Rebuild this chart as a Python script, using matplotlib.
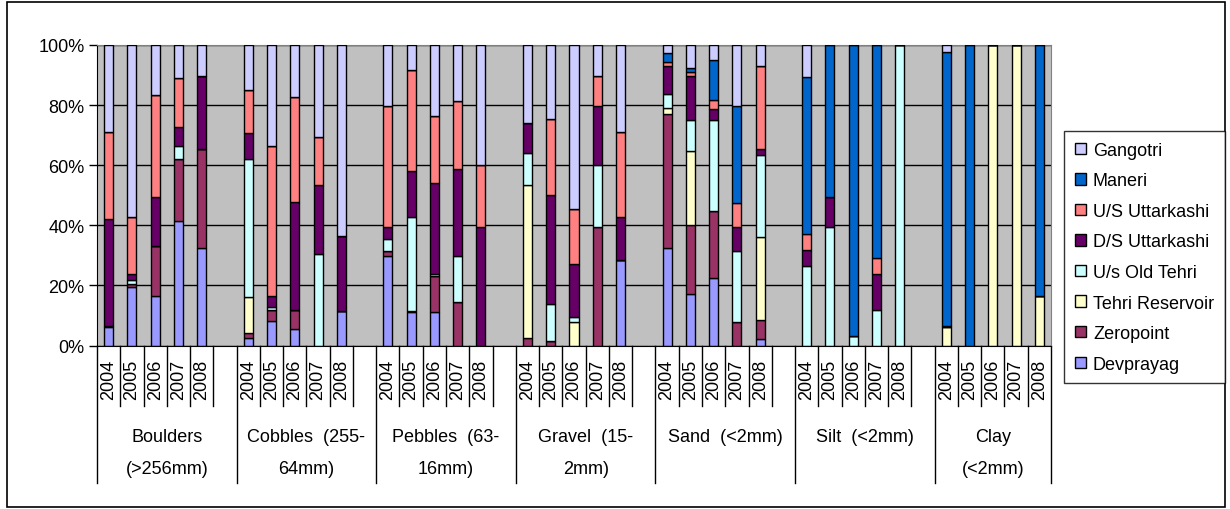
import matplotlib
matplotlib.use("Agg")
import matplotlib.pyplot as plt
from matplotlib.patches import Patch, Rectangle
from matplotlib.lines import Line2D
import numpy as np

plt.rcParams['font.family'] = ['Liberation Sans', 'DejaVu Sans']

years = ["2004", "2005", "2006", "2007", "2008"]
groups = [["Boulders", "(>256mm)"], ["Cobbles  (255-", "64mm)"], ["Pebbles  (63-", "16mm)"],
          ["Gravel  (15-", "2mm)"], ["Sand  (<2mm)", ""], ["Silt  (<2mm)", ""], ["Clay", "(<2mm)"]]

# Segment values (%) per series, 7 groups x 5 years
devprayag = [6, 19.4, 16.4, 41.5, 32.3,
             2.5, 8.3, 5.5, 0, 11.6,
             29.7, 11, 11, 0, 0,
             0, 0, 0, 0, 28.4,
             32.3, 17.1, 22.5, 0, 2,
             0, 0, 0, 0, 0,
             0, 0, 0, 0, 0]
zeropoint = [0.6, 1, 16.6, 20.5, 33.1,
             1.5, 3.6, 6.4, 0, 0,
             1.9, 0.6, 12.2, 14.4, 0,
             2.5, 1.5, 0, 39.5, 0,
             44.7, 23.1, 22.4, 7.9, 6.5,
             0, 0, 0, 0, 0,
             0, 0, 0, 0, 0]
tehri_res = [0, 0, 0, 0, 0,
             12, 0, 0, 0, 0,
             0, 0, 0, 0, 0,
             51, 0, 7.7, 0, 0,
             2, 24.4, 0, 0, 27.5,
             0, 0, 0, 0, 0,
             6, 0, 100, 100, 16.6]
us_old_tehri = [0, 1.5, 0, 4.5, 0,
                46.1, 0.8, 0, 30.5, 0,
                3.8, 31, 0.6, 15.3, 0,
                10.5, 12.3, 1.7, 20.6, 0,
                4.7, 10.6, 30.3, 23.7, 27.4,
                26.3, 39.5, 3, 11.9, 100,
                0, 0, 0, 0, 0]
ds_uttarkashi = [35.4, 2, 16.3, 6.1, 24.4,
                 8.5, 3.9, 35.7, 23, 24.7,
                 4.1, 15.6, 30.2, 29, 39.5,
                 10, 36.4, 17.6, 19.7, 14.5,
                 9.2, 14.6, 3.5, 7.7, 2,
                 5.5, 10, 0, 11.9, 0,
                 0.6, 0, 0, 0, 0]
us_uttarkashi = [29, 19, 33.9, 16.4, 0,
                 14.5, 49.9, 35, 15.8, 0,
                 40.3, 33.5, 22.5, 22.5, 20.6,
                 0, 25.2, 18.5, 10, 28.2,
                 1.4, 1.1, 3, 8, 27.7,
                 5.3, 0, 0, 5.3, 0,
                 0, 0, 0, 0, 0]
maneri = [0, 0, 0, 0, 0,
          0, 0, 0, 0, 0,
          0, 0, 0, 0, 0,
          0, 0, 0, 0, 0,
          2.9, 1.3, 13.3, 32.5, 0,
          52.1, 50.5, 97, 70.9, 0,
          91, 100, 0, 0, 83.4]
gangotri = [29, 57.1, 16.8, 11, 10.2,
            14.9, 33.5, 17.4, 30.7, 63.7,
            20.2, 8.3, 23.5, 18.8, 39.9,
            26, 24.6, 54.5, 10.2, 28.9,
            2.8, 7.8, 5, 20.2, 6.9,
            10.8, 0, 0, 0, 0,
            2.4, 0, 0, 0, 0]

series = [("Devprayag", devprayag, "#9999FF"),
          ("Zeropoint", zeropoint, "#993366"),
          ("Tehri Reservoir", tehri_res, "#FFFFCC"),
          ("U/s Old Tehri", us_old_tehri, "#CCFFFF"),
          ("D/S Uttarkashi", ds_uttarkashi, "#660066"),
          ("U/S Uttarkashi", us_uttarkashi, "#FF8080"),
          ("Maneri", maneri, "#0066CC"),
          ("Gangotri", gangotri, "#CCCCFF")]

W, H = 1230, 510
fig = plt.figure(figsize=(W / 100, H / 100), dpi=100)
x0, x1, y0, y1 = 97, 1051, 46, 346.5
ax = fig.add_axes([x0 / W, 1 - y1 / H, (x1 - x0) / W, (y1 - y0) / H])
ax.set_facecolor("#C0C0C0")

n_groups = len(groups)
nslots = n_groups * 6 - 1
xpos = []
for g in range(n_groups):
    for k in range(len(years)):
        xpos.append(g * 6 + k + 0.5)
xpos = np.array(xpos)

mat = np.array([s[1] for s in series], dtype=float)
tot = mat.sum(axis=0)
mat = mat / tot * 100

bottom = np.zeros(len(xpos))
for (name, _, color), vals in zip(series, mat):
    ax.bar(xpos, vals, bottom=bottom, width=0.39, color=color, edgecolor="black",
           linewidth=1.0, label=name, zorder=3)
    bottom += vals

ax.set_xlim(0, nslots)
ax.set_ylim(0, 100)
ax.set_yticks([0, 20, 40, 60, 80, 100])
ax.set_yticklabels(["0%", "20%", "40%", "60%", "80%", "100%"], fontsize=13)
ax.tick_params(axis="y", direction="out", length=6, width=1, pad=3, colors="black")
ax.set_xticks([])
ax.grid(axis="y", color="black", linewidth=1.0, zorder=1)
ax.set_axisbelow(True)
for s in ["top", "right"]:
    ax.spines[s].set_color("#808080")
ax.spines["left"].set_color("black")
ax.spines["bottom"].set_color("black")
ax.spines["bottom"].set_zorder(5)

trans = ax.get_xaxis_transform()
axh = y1 - y0
def yf(py):
    return (y1 - py) / axh

for xp_i, xp in enumerate(xpos):
    ax.text(xp, yf(360), years[xp_i % 5], rotation=90, ha="center", va="top",
            fontsize=13, transform=trans)
for g in range(n_groups):
    start = g * 6
    ax.add_line(Line2D([start, start], [0, yf(484)], transform=trans, color="black",
                       lw=1, clip_on=False))
    for k in range(1, 6):
        b = start + k
        if b >= nslots:
            continue
        ax.add_line(Line2D([b, b], [0, yf(407)], transform=trans, color="black",
                           lw=1, clip_on=False))
ax.add_line(Line2D([nslots, nslots], [0, yf(484)], transform=trans, color="black",
                   lw=1, clip_on=False))
for g, (l1, l2) in enumerate(groups):
    end = min(g * 6 + 6, nslots)
    cx = (g * 6 + end) / 2
    ax.text(cx, yf(438), l1, ha="center", va="center", fontsize=13, transform=trans)
    if l2:
        ax.text(cx, yf(470), l2, ha="center", va="center", fontsize=13, transform=trans)

handles = [Patch(facecolor=c, edgecolor="black", linewidth=1, label=n) for n, _, c in series][::-1]
leg = fig.legend(handles=handles, loc="upper left", bbox_to_anchor=(1064 / W, 1 - 132 / H),
                 frameon=True, fancybox=False, edgecolor="black", fontsize=13,
                 handlelength=0.6, handleheight=0.6, handletextpad=0.4,
                 labelspacing=0.75, borderpad=0.6, borderaxespad=0)
leg.get_frame().set_linewidth(1.0)

fig.patches.append(Rectangle((7 / W, 2 / H), 1218 / W, 505 / H, transform=fig.transFigure,
                             fill=False, edgecolor="black", linewidth=1.2))

fig.savefig("out.png", dpi=100)
